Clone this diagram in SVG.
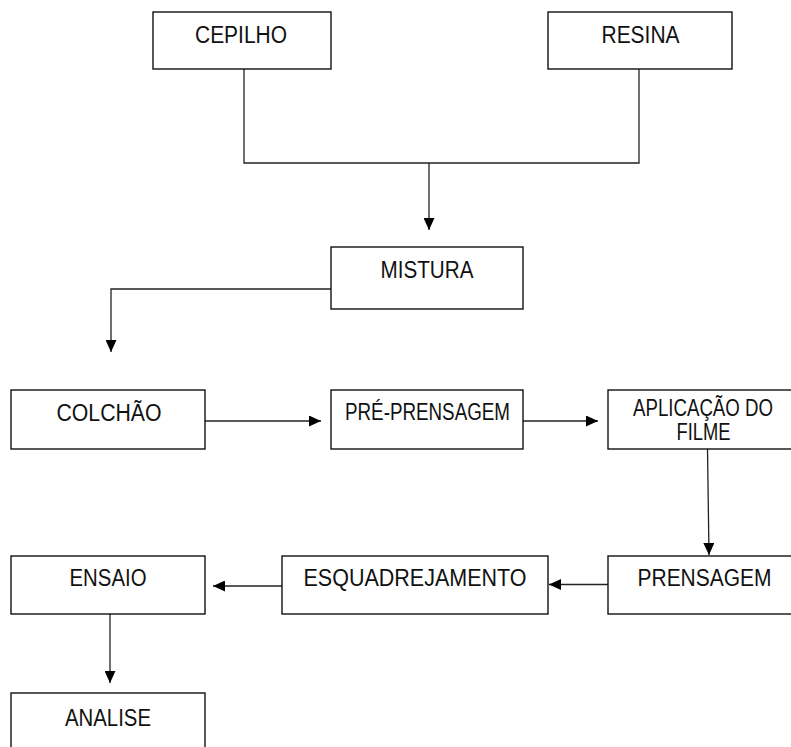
<svg xmlns="http://www.w3.org/2000/svg" width="791" height="747" viewBox="0 0 791 747">
<style>
.box{fill:#fff;stroke:#111;stroke-width:1.4}
.t{font-family:"Liberation Sans",Arial,sans-serif;font-size:23px;fill:#111;text-anchor:middle}
.c{fill:none;stroke:#222;stroke-width:1.3}
</style>
<defs>
<marker id="ah" markerUnits="userSpaceOnUse" markerWidth="12" markerHeight="11" refX="12" refY="5.5" orient="auto">
<path d="M0,0 L12,5.5 L0,11 z" fill="#000"/>
</marker>
</defs>
<rect width="791" height="747" fill="#fff"/>
<g id="connectors">
<path class="c" d="M244,69 V163 H639 V69"/>
<path class="c" d="M429,163 V230" marker-end="url(#ah)"/>
<path class="c" d="M331,289 H111 V352" marker-end="url(#ah)"/>
<path class="c" d="M205,421 H321" marker-end="url(#ah)"/>
<path class="c" d="M523,421 H598" marker-end="url(#ah)"/>
<path class="c" d="M707.5,449 L709,555" marker-end="url(#ah)"/>
<path class="c" d="M608,584.5 H549" marker-end="url(#ah)"/>
<path class="c" d="M282,586 H213" marker-end="url(#ah)"/>
<path class="c" d="M110,614 V683" marker-end="url(#ah)"/>
</g>
<g id="cepilho"><rect class="box" x="153" y="12" width="178" height="57"/><text class="t" x="241" y="43" textLength="92" lengthAdjust="spacingAndGlyphs">CEPILHO</text></g>
<g id="resina"><rect class="box" x="548" y="12" width="184" height="57"/><text class="t" x="640.5" y="43" textLength="78" lengthAdjust="spacingAndGlyphs">RESINA</text></g>
<g id="mistura"><rect class="box" x="331" y="247" width="192" height="62"/><text class="t" x="427" y="278" textLength="93" lengthAdjust="spacingAndGlyphs">MISTURA</text></g>
<g id="colchao"><rect class="box" x="11" y="390" width="194" height="59"/><text class="t" x="109" y="420.5" textLength="105" lengthAdjust="spacingAndGlyphs">COLCHÃO</text></g>
<g id="preprensagem"><rect class="box" x="331" y="390" width="192" height="59"/><text class="t" x="427.5" y="419.5" textLength="165" lengthAdjust="spacingAndGlyphs">PRÉ-PRENSAGEM</text></g>
<g id="aplicacao"><rect class="box" x="608" y="390" width="195" height="59"/><text class="t" x="703" y="415.5" textLength="140" lengthAdjust="spacingAndGlyphs">APLICAÇÃO DO</text><text class="t" x="703.5" y="439.5" textLength="54" lengthAdjust="spacingAndGlyphs">FILME</text></g>
<g id="prensagem"><rect class="box" x="608" y="556" width="195" height="58"/><text class="t" x="704.5" y="585.5" textLength="134" lengthAdjust="spacingAndGlyphs">PRENSAGEM</text></g>
<g id="esquadrejamento"><rect class="box" x="282" y="556" width="266" height="58"/><text class="t" x="415" y="585.5" textLength="223" lengthAdjust="spacingAndGlyphs">ESQUADREJAMENTO</text></g>
<g id="ensaio"><rect class="box" x="11" y="556" width="194" height="58"/><text class="t" x="108" y="585.5" textLength="77" lengthAdjust="spacingAndGlyphs">ENSAIO</text></g>
<g id="analise"><rect class="box" x="11" y="693" width="194" height="70"/><text class="t" x="108" y="726" textLength="86" lengthAdjust="spacingAndGlyphs">ANALISE</text></g>
</svg>
